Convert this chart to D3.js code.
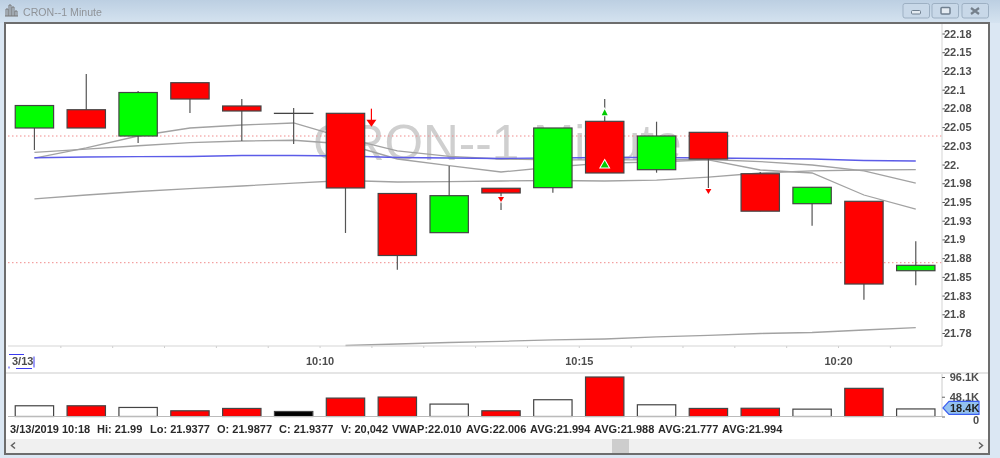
<!DOCTYPE html>
<html lang="en">

<head>
    <meta charset="utf-8">
    <style type="text/css">
        html, body { margin: 0; padding: 0; background: #dbe7f3; overflow: hidden; }
        svg { display: block; filter: blur(0.4px); }
        text { font-family: "Liberation Sans", Arial, sans-serif; }
        .axis text { font-weight: bold; font-size: 11px; fill: #4d4d4d; }
        .axis .domain { display: none; }
    </style>
</head>

<body>
    <svg width="1000" height="458"></svg>
    <script src="https://d3js.org/d3.v7.min.js" type="text/javascript"></script>

    <script type="text/javascript">
        // one candle per minute, starting 10:04
        var minutes = [604, 605, 606, 607, 608, 609, 610, 611, 612, 613, 614, 615, 616, 617, 618, 619, 620, 621];
        var opens = [22.0488, 22.0732, 22.0381, 22.1093, 22.0782, 22.0684, 22.0684, 21.9613, 21.909, 21.9683, 21.9691, 22.0577, 21.9931, 22.043, 21.9877, 21.9477, 21.9509, 21.8582];
        var closes = [22.0788, 22.0488, 22.0962, 22.0875, 22.0715, 22.0684, 21.9687, 21.8785, 21.9584, 21.962, 22.0488, 21.9887, 22.0381, 22.0074, 21.9377, 21.9696, 21.8404, 21.8654];
        var highs = [22.0788, 22.1209, 22.0982, 22.1093, 22.0875, 22.0755, 22.0684, 21.9613, 21.998, 21.9683, 22.0488, 22.0875, 22.0572, 22.043, 21.99, 21.9696, 21.9509, 21.8975];
        var lows = [22.0194, 22.0488, 22.0288, 22.0688, 22.0314, 22.0274, 21.9086, 21.8595, 21.909, 21.9393, 21.9624, 21.9887, 21.9891, 21.9687, 21.9377, 21.9183, 21.8195, 21.8387];
        var volumes = [26100, 26100, 22000, 13900, 19600, 12200, 44800, 47300, 30200, 13900, 40800, 96100, 28500, 19600, 20042, 17900, 68500, 18400];
        var volumeColors = ["#fff", "#f00", "#fff", "#f00", "#f00", "#000", "#f00", "#f00", "#fff", "#f00", "#fff", "#f00", "#fff", "#f00", "#f00", "#fff", "#f00", "#fff"];

        var vwap = [22.0091, 22.0101, 22.0105, 22.0107, 22.0121, 22.0121, 22.0114, 22.0094, 22.0087, 22.0081, 22.0087, 22.0094, 22.0094, 22.0087, 22.0081, 22.0074, 22.0054, 22.0047];
        var avgFast = [22.0087, 22.0221, 22.0381, 22.0488, 22.0528, 22.0555, 22.0354, 22.0181, 22.0108, 22.0074, 22.0061, 22.0061, 22.0061, 22.0067, 22.0040, 21.9994, 21.9914, 21.9753];
        var avgMid = [22.0163, 22.0207, 22.0251, 22.0292, 22.0314, 22.0324, 22.0274, 22.0074, 21.9984, 21.99, 21.9967, 22.002, 22.0034, 22.0061, 21.9927, 21.9887, 21.9593, 21.9406];
        var avgSlow = [21.954, 21.9593, 21.964, 21.9679, 21.9713, 21.9753, 21.9787, 21.9767, 21.9773, 21.978, 21.9787, 21.978, 21.9793, 21.9833, 21.9887, 21.9914, 21.9927, 21.9931];
        var avgLong = [null, null, null, null, null, null, 21.7583, 21.7603, 21.7623, 21.7639, 21.7657, 21.767, 21.7697, 21.7717, 21.7743, 21.7757, 21.779, 21.7821];
        var pivots = [22.0381, 21.8689];

        var yTickValues = [22.175, 22.15, 22.125, 22.1, 22.075, 22.05, 22.025, 22, 21.975, 21.95, 21.925, 21.9, 21.875, 21.85, 21.825, 21.8, 21.775];
        var yTickLabels = ["22.18", "22.15", "22.13", "22.1", "22.08", "22.05", "22.03", "22.", "21.98", "21.95", "21.93", "21.9", "21.88", "21.85", "21.83", "21.8", "21.78"];
        var volTickValues = [96100, 48100, 0];
        var volTickLabels = ["96.1K", "48.1K", "0"];

        // buy/sell flags: minute position, price at the top of the flag
        var sellArrows = [[611, 22.0746]];
        var sellFlags = [[613.5, 21.9565], [617.5, 21.9673]];
        var buyFlags = [[615.5, 22.0725, 3], [615.5, 22.0041, 4]];

        var statusItems = ["3/13/2019 10:18", "Hi: 21.99", "Lo: 21.9377", "O: 21.9877", "C: 21.9377", "V: 20,042", "VWAP:22.010", "AVG:22.006", "AVG:21.994", "AVG:21.988", "AVG:21.777", "AVG:21.994"];
        var statusStarts = [10, 97, 150, 217, 279, 341, 392, 466, 530, 594, 658, 722];

        var svg = d3.select("svg"),
            width = +svg.attr("width"),
            height = +svg.attr("height");

        var x = d3.scaleLinear().domain([604, 622]).range([8.5, 941.7]);
        var y = d3.scaleLinear().domain([22.175, 21.775]).range([33.5, 333]);
        var yVol = d3.scaleLinear().domain([0, 96100]).range([416.5, 377]);
        var step = x(605) - x(604);
        var bodyWidth = step * 0.74;

        // window frame
        var grad = svg.append("defs").append("linearGradient")
            .attr("id", "titlebar").attr("x1", 0).attr("x2", 0).attr("y1", 0).attr("y2", 1);
        grad.append("stop").attr("offset", "0%").attr("stop-color", "#bccfe2");
        grad.append("stop").attr("offset", "100%").attr("stop-color", "#d5e3f0");

        svg.append("rect").attr("width", width).attr("height", height).attr("fill", "#dbe7f3");
        svg.append("rect").attr("width", width).attr("height", 23).attr("fill", "url(#titlebar)");
        svg.append("rect").attr("x", 5).attr("y", 23).attr("width", 984).attr("height", 431)
            .attr("fill", "#fff").attr("stroke", "#6d6d6d").attr("stroke-width", 2);

        // title icon and text
        svg.append("path")
            .attr("d", "M5 16H18M6 16V9H8V16M9 16V5H11V16M12 16V7H14V16M15 16V11H17V16")
            .attr("fill", "none").attr("stroke", "#777").attr("stroke-width", 1);
        svg.append("text").attr("x", 23).attr("y", 16).attr("font-size", 10.6).attr("fill", "#8f9398").text("CRON--1 Minute");

        // window buttons
        var buttonX = [903, 932, 962];
        svg.selectAll(".winbtn").data(buttonX).enter().append("rect")
            .attr("class", "winbtn")
            .attr("x", function (d) { return d; }).attr("y", 3.5)
            .attr("width", 26.5).attr("height", 14.5).attr("rx", 2)
            .attr("fill", "#c8d8e8").attr("stroke", "#9db0c3");
        svg.append("rect").attr("x", 911.5).attr("y", 10.5).attr("width", 9).attr("height", 3.5).attr("rx", 1).attr("fill", "#e4ebf2").attr("stroke", "#6f7f8f");
        svg.append("rect").attr("x", 941).attr("y", 7.5).attr("width", 9).attr("height", 6.5).attr("rx", 1).attr("fill", "#e4ebf2").attr("stroke", "#6f7f8f").attr("stroke-width", 1.5);
        svg.append("path").attr("d", "M971 8L979 14M979 8L971 14").attr("stroke", "#75808c").attr("stroke-width", 2.2);

        // watermark
        svg.append("text")
            .attr("x", 313).attr("y", 160)
            .attr("font-size", 49.5).attr("fill", "#cfcfcf")
            .text("CRON--1 Minute");

        // pivot lines
        svg.selectAll(".pivot").data(pivots).enter().append("line")
            .attr("class", "pivot")
            .attr("x1", 8).attr("x2", 942)
            .attr("y1", function (d) { return y(d); }).attr("y2", function (d) { return y(d); })
            .attr("stroke", "#f08a8a").attr("stroke-width", 1).attr("stroke-dasharray", "1.5,2.5");

        // moving averages
        var line = d3.line()
            .defined(function (d) { return d != null; })
            .x(function (d, i) { return x(minutes[i] + 0.5); })
            .y(function (d) { return y(d); });

        [avgFast, avgMid, avgSlow, avgLong].forEach(function (s) {
            svg.append("path").attr("d", line(s)).attr("fill", "none").attr("stroke", "#a2a2a2").attr("stroke-width", 1.3);
        });
        svg.append("path").attr("d", line(vwap)).attr("fill", "none").attr("stroke", "#5c5ce8").attr("stroke-width", 1.4);

        // candles
        var candles = svg.selectAll(".candle").data(minutes).enter().append("g").attr("class", "candle");

        candles.append("line")
            .attr("x1", function (d) { return x(d + 0.5); })
            .attr("x2", function (d) { return x(d + 0.5); })
            .attr("y1", function (d, i) { return y(highs[i]); })
            .attr("y2", function (d, i) { return y(lows[i]); })
            .attr("stroke", "#555").attr("stroke-width", 1.2);

        candles.append("rect")
            .attr("x", function (d) { return x(d + 0.5) - bodyWidth / 2; })
            .attr("width", bodyWidth)
            .attr("y", function (d, i) { return y(Math.max(opens[i], closes[i])); })
            .attr("height", function (d, i) { return Math.max(Math.abs(y(opens[i]) - y(closes[i])), 0.1); })
            .attr("fill", function (d, i) { return closes[i] > opens[i] ? "#0f0" : "#f00"; })
            .attr("stroke", "#444").attr("stroke-width", 1.2);

        // flags
        sellArrows.forEach(function (f) {
            var px = x(f[0]), py = y(f[1]);
            svg.append("line").attr("x1", px).attr("x2", px).attr("y1", py).attr("y2", py + 12).attr("stroke", "#f00").attr("stroke-width", 1.2);
            svg.append("path").attr("d", "M" + (px - 5) + " " + (py + 11) + "H" + (px + 5) + "L" + px + " " + (py + 18) + "Z").attr("fill", "#f00");
        });
        sellFlags.forEach(function (f) {
            var px = x(f[0]), py = y(f[1]);
            svg.append("path").attr("d", "M" + (px - 3) + " " + py + "H" + (px + 3) + "L" + px + " " + (py + 5) + "Z")
                .attr("fill", "#f00").attr("stroke", "#fff").attr("stroke-width", 1.5).attr("paint-order", "stroke");
        });
        buyFlags.forEach(function (f) {
            var px = x(f[0]), py = y(f[1]), r = f[2];
            svg.append("path").attr("d", "M" + (px - r) + " " + (py + r + 2) + "H" + (px + r) + "L" + px + " " + (py - 1) + "Z")
                .attr("fill", "#0c0").attr("stroke", "#fff").attr("stroke-width", 2).attr("paint-order", "stroke");
        });

        // axes
        var yAxis = d3.axisRight(y).tickValues(yTickValues).tickSize(3).tickPadding(-1)
            .tickFormat(function (d, i) { return yTickLabels[i]; });
        var gy = svg.append("g").attr("class", "axis").attr("transform", "translate(942,0)").call(yAxis);
        gy.selectAll(".tick line").attr("stroke", "#555");
        svg.append("line").attr("x1", 942).attr("x2", 942).attr("y1", 24).attr("y2", 346).attr("stroke", "#d5d5d5");

        var xAxis = d3.axisBottom(x).tickValues(d3.range(605, 622)).tickSize(2).tickPadding(9)
            .tickFormat(function (d) {
                return d % 5 == 0 && d >= 610 ? "10:" + d3.format("02")(d - 600) : "";
            });
        var gx = svg.append("g").attr("class", "axis").attr("transform", "translate(0,346)").call(xAxis);
        gx.selectAll(".tick line").attr("stroke", "#ccc");
        svg.append("line").attr("x1", 8).attr("x2", 942).attr("y1", 346).attr("y2", 346).attr("stroke", "#d5d5d5");

        // date label with the dashed focus box
        svg.append("text").attr("x", 12).attr("y", 365).attr("font-size", 11).attr("font-weight", "bold").attr("fill", "#4d4d4d").text("3/13");
        svg.append("rect").attr("x", 9).attr("y", 354.5).attr("width", 25).attr("height", 14)
            .attr("fill", "none").attr("stroke", "#3a3af0").attr("stroke-dasharray", "15,12,11,3,16,7,2,12");

        // volume pane
        svg.append("line").attr("x1", 6).attr("x2", 988).attr("y1", 373).attr("y2", 373).attr("stroke", "#ddd").attr("stroke-width", 1.5);
        svg.selectAll(".vol").data(minutes).enter().append("rect")
            .attr("class", "vol")
            .attr("x", function (d) { return x(d + 0.5) - bodyWidth / 2; })
            .attr("width", bodyWidth)
            .attr("y", function (d, i) { return yVol(volumes[i]); })
            .attr("height", function (d, i) { return yVol(0) - yVol(volumes[i]); })
            .attr("fill", function (d, i) { return volumeColors[i]; })
            .attr("stroke", "#444").attr("stroke-width", 1.2);
        svg.append("line").attr("x1", 8).attr("x2", 942).attr("y1", yVol(0)).attr("y2", yVol(0)).attr("stroke", "#bbb");
        svg.append("line").attr("x1", 942).attr("x2", 942).attr("y1", 374).attr("y2", yVol(0)).attr("stroke", "#ccc");

        var volAxis = d3.axisRight(yVol).tickValues(volTickValues).tickSize(3).tickPadding(34)
            .tickFormat(function (d, i) { return volTickLabels[i]; });
        var gv = svg.append("g").attr("class", "axis").attr("transform", "translate(942,0)").call(volAxis);
        gv.selectAll(".tick line").attr("stroke", "#666");
        gv.selectAll("text").attr("text-anchor", "end");
        // the 0 sits just under the last volume flag
        gv.selectAll("text").filter(function (d) { return d == 0; }).attr("dy", "0.68em");

        // last volume flag
        var lastY = yVol(volumes[volumes.length - 1]);
        svg.append("path")
            .attr("d", "M943 " + (lastY - 1) + "L949 " + (lastY - 7.5) + "H979V" + (lastY + 5.5) + "H949Z")
            .attr("fill", "#93c1f0").attr("stroke", "#3a5ef0").attr("stroke-width", 1.2);
        svg.append("text").attr("x", 950).attr("y", lastY + 3).attr("font-size", 11).attr("font-weight", "bold").attr("fill", "#222").text("18.4K");

        // status line
        svg.selectAll(".status").data(statusItems).enter().append("text")
            .attr("class", "status")
            .attr("x", function (d, i) { return statusStarts[i]; })
            .attr("y", 433)
            .attr("font-size", 11).attr("font-weight", "bold").attr("fill", "#2a2a2a")
            .text(function (d) { return d; });

        // scroll bar
        svg.append("rect").attr("x", 6).attr("y", 439).attr("width", 982).attr("height", 14).attr("fill", "#f0f0f0");
        svg.append("rect").attr("x", 612).attr("y", 439).attr("width", 17).attr("height", 14).attr("fill", "#cdcdcd");
        svg.append("path").attr("d", "M15 442.5L11.5 445.5L15 448.5M979 442.5L982.5 445.5L979 448.5")
            .attr("fill", "none").attr("stroke", "#606060").attr("stroke-width", 1.5);
    </script>

</body>

</html>
